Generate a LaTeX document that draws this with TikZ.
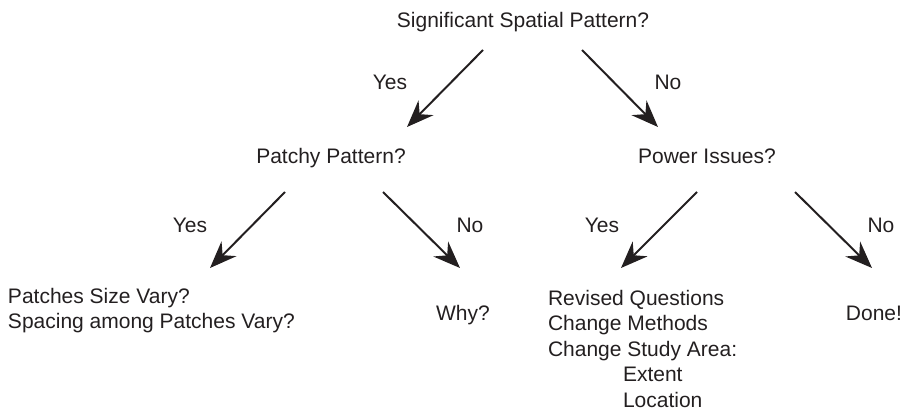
\documentclass[tikz,border=0pt]{standalone}
\usepackage{fontspec}
\setmainfont{Liberation Sans}
\usetikzlibrary{arrows.meta}
\definecolor{ink}{HTML}{231F20}
\begin{document}
\begin{tikzpicture}[x=1pt,y=-1pt,
  every node/.style={inner sep=0pt,outer sep=0pt,text=ink,font=\fontsize{21}{25.5}\selectfont},
  lbl/.style={anchor=base},
  block/.style={anchor=north west,align=left},
  conn/.style={draw=ink,line width=2pt,-{Stealth[length=27pt,width=21pt,inset=9pt]}}]
\useasboundingbox (0,0) rectangle (903,412);
% text nodes
\node[lbl] (title) at (523,28) {Significant Spatial Pattern?};
\node[lbl] (patchy) at (331,163) {Patchy Pattern?};
\node[lbl] (power) at (707,163) {Power Issues?};
\node[lbl] (yes1) at (390,90) {Yes};
\node[lbl] (no1) at (668,90) {No};
\node[lbl] (yes2) at (190,232) {Yes};
\node[lbl] (no2) at (470,232) {No};
\node[lbl] (yes3) at (602,232) {Yes};
\node[lbl] (no3) at (881,232) {No};
\node[block] (patches) at (8,288) {Patches Size Vary?\\Spacing among Patches Vary?};
\node[lbl] (why) at (463,320) {Why?};
\node[block] (revised) at (548,290) {Revised Questions\\Change Methods\\Change Study Area:\\\hspace*{75pt}Extent\\\hspace*{75pt}Location};
\node[anchor=base east] (done) at (902,320) {Done!};
% connector end points
\coordinate (a1s) at (483,50);  \coordinate (a1e) at (407,127);
\coordinate (a2s) at (582,50);  \coordinate (a2e) at (658,127);
\coordinate (a3s) at (285,192); \coordinate (a3e) at (210,268);
\coordinate (a4s) at (383,192); \coordinate (a4e) at (460,268);
\coordinate (a5s) at (697,192); \coordinate (a5e) at (621,268);
\coordinate (a6s) at (795,192); \coordinate (a6e) at (872,268);
\draw[conn] (a1s) -- (a1e);
\draw[conn] (a2s) -- (a2e);
\draw[conn] (a3s) -- (a3e);
\draw[conn] (a4s) -- (a4e);
\draw[conn] (a5s) -- (a5e);
\draw[conn] (a6s) -- (a6e);
\end{tikzpicture}
\end{document}
